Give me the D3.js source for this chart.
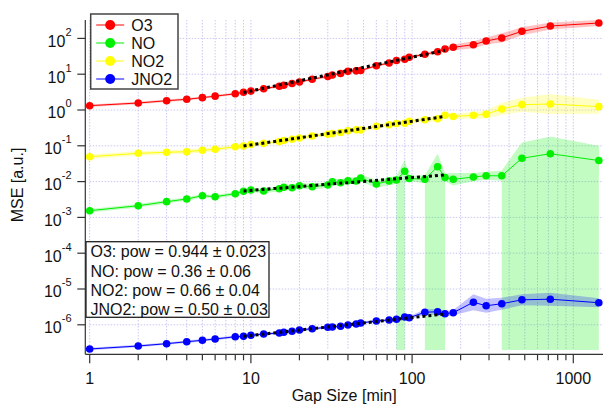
<!DOCTYPE html>
<meta charset="utf-8">
<head>
  <title>MSE vs gap size</title>
  <script src="https://d3js.org/d3.v7.min.js"></script>
  <style>
    body {
      margin: 0;
      font-family: "Liberation Sans", Arial, sans-serif;
      background: #fff;
    }
    .grid line {
      stroke: #c8c8f4;
      stroke-width: 1;
      stroke-dasharray: 1.5,1.5;
    }
    .axis-line {
      stroke: #333;
      stroke-width: 1.2;
    }
    .label {
      font-size: 16px;
      fill: #111;
    }
  </style>
</head>
<body>
<script>
  // gap sizes (minutes)
  var gaps = [1, 2, 3, 4, 5, 6, 8, 9, 10, 12, 15, 16, 18, 20, 24, 30, 32, 36, 40, 45, 48,
              60, 72, 80, 90, 96, 120, 144, 160, 180, 240, 288, 360, 480, 720, 1440];

  // MSE per species, relative error (band) per point
  var o3 = [1.32, 1.57, 1.82, 1.99, 2.21, 2.44, 2.84, 3.14, 3.37, 3.94, 4.62, 4.93, 5.50, 6.05, 7.25,
            8.63, 9.50, 10.5, 12.0, 12.4, 12.7, 17.3, 20.5, 24.2, 26.1, 29.8, 36.0, 42.5, 50.6, 56.4,
            66.6, 84.6, 103, 158, 222, 269];
  var o3Err = [0.08, 0.08, 0.08, 0.08, 0.08, 0.08, 0.08, 0.08, 0.08, 0.08, 0.08, 0.08, 0.08, 0.08, 0.08,
               0.08, 0.08, 0.08, 0.08, 0.08, 0.08, 0.08, 0.08, 0.08, 0.08, 0.08, 0.1, 0.12, 0.15, 0.2,
               0.25, 0.25, 0.35, 0.3, 0.25, 0.22];

  var no = [0.00154, 0.00212, 0.00275, 0.00327, 0.00404, 0.00379, 0.00459, 0.00536, 0.00582, 0.00546,
            0.00634, 0.00693, 0.00676, 0.00768, 0.00721, 0.00803, 0.00993, 0.00931, 0.0106, 0.0104,
            0.0126, 0.00857, 0.0104, 0.0111, 0.0194, 0.0122, 0.0116, 0.0261, 0.0130, 0.0116, 0.0134,
            0.0146, 0.0145, 0.0448, 0.0601, 0.0388];
  var noErr = [0.12, 0.12, 0.12, 0.12, 0.12, 0.12, 0.12, 0.14, 0.14, 0.15, 0.18, 0.18, 0.2, 0.2, 0.2,
               0.2, 0.22, 0.22, 0.22, 0.25, 0.25, 0.3, 0.3, 0.3, 1.07, 0.2, 0.3, 1.26, 0.3, 0.5,
               0.3, 0.3, 0.38, 1.73, 1.99, 1.54];
  // gaps where the NO lower bound drops to zero or below
  var noNoLow = [80, 90, 120, 144, 160, 360, 480, 720, 1440];

  var no2 = [0.0496, 0.0617, 0.0658, 0.0685, 0.0749, 0.0798, 0.0944, 0.0987, 0.109, 0.117, 0.131,
             0.140, 0.152, 0.165, 0.188, 0.211, 0.219, 0.235, 0.262, 0.282, 0.276, 0.352, 0.388,
             0.420, 0.425, 0.483, 0.536, 0.568, 0.716, 0.658, 0.711, 0.758, 1.07, 1.41, 1.47, 1.24];
  var no2Err = [0.15, 0.15, 0.15, 0.15, 0.15, 0.15, 0.15, 0.15, 0.15, 0.15, 0.15, 0.15, 0.15, 0.15, 0.15,
                0.15, 0.15, 0.15, 0.15, 0.15, 0.15, 0.15, 0.15, 0.15, 0.15, 0.15, 0.18, 0.18, 0.2, 0.2,
                0.22, 0.3, 0.47, 0.57, 0.9, 0.57];

  var jno2 = [2.11e-7, 2.56e-7, 2.97e-7, 3.37e-7, 3.69e-7, 4.01e-7, 4.65e-7, 4.75e-7, 5.09e-7, 5.54e-7,
              5.90e-7, 6.18e-7, 6.58e-7, 7.16e-7, 7.78e-7, 8.51e-7, 8.69e-7, 9.08e-7, 9.87e-7, 1.05e-6,
              1.12e-6, 1.28e-6, 1.36e-6, 1.43e-6, 1.65e-6, 1.57e-6, 2.25e-6, 2.31e-6, 2.04e-6, 2.18e-6,
              4.28e-6, 3.40e-6, 3.88e-6, 4.99e-6, 5.19e-6, 4.14e-6];
  var jno2Err = [0.08, 0.08, 0.08, 0.08, 0.08, 0.08, 0.08, 0.08, 0.08, 0.08, 0.08, 0.08, 0.08, 0.08, 0.08,
                 0.08, 0.08, 0.08, 0.08, 0.08, 0.08, 0.08, 0.08, 0.08, 0.1, 0.1, 0.2, 0.2, 0.2, 0.18,
                 0.67, 0.57, 0.47, 0.42, 0.52, 0.34];

  // power law fits: end points of the fitted range
  var fitX = [9, 160];
  var o3Fit = [3.08, 46.6];
  var noFit = [0.00546, 0.0154];
  var no2Fit = [0.0987, 0.66];
  var jno2Fit = [4.77e-7, 2.01e-6];

  var names = ["O3", "NO", "NO2", "JNO2"];
  var colors = ["#ff0000", "#00f000", "#ffff00", "#0000ff"];
  var fitLabels = ["O3: pow = 0.944 \u00b1 0.023",
                   "NO: pow = 0.36 \u00b1 0.06",
                   "NO2: pow = 0.66 \u00b1 0.04",
                   "JNO2: pow = 0.50 \u00b1 0.03"];
  var xTicks = [1, 10, 100, 1000];
  var yTicks = [1e-6, 1e-5, 1e-4, 1e-3, 1e-2, 1e-1, 1, 10, 100];

  var series = [
    {name: names[0], color: colors[0], values: o3, err: o3Err, noLow: [], fit: o3Fit},
    {name: names[1], color: colors[1], values: no, err: noErr, noLow: noNoLow, fit: noFit},
    {name: names[2], color: colors[2], values: no2, err: no2Err, noLow: [], fit: no2Fit},
    {name: names[3], color: colors[3], values: jno2, err: jno2Err, noLow: [], fit: jno2Fit}
  ];

  var width = 603, height = 405;
  // plot area (note: "top" is reserved on window, hence the prefix)
  var plotLeft = 89.7, plotRight = 603, plotTop = 20, plotBottom = 350;
  var axisX = 85.3, axisY = 354.3;

  var x = d3.scaleLog().domain([1, 1000]).range([89.7, 573.3]);
  var y = d3.scaleLog().domain([1e-6, 100]).range([324.8, 38.4]);

  var svg = d3.select("body").append("svg")
    .attr("width", width)
    .attr("height", height);

  svg.append("defs").append("clipPath").attr("id", "plotclip")
    .append("rect")
      .attr("x", plotLeft).attr("y", plotTop)
      .attr("width", plotRight - plotLeft).attr("height", plotBottom - plotTop);

  // grid lines
  var xGrid = [];
  [1, 10, 100, 1000].forEach(function(d) {
    for (var k = 1; k <= 9; k++) {
      if (d * k <= x.invert(plotRight)) xGrid.push(d * k);
    }
  });
  var grid = svg.append("g").attr("class", "grid");
  grid.selectAll(".vg").data(xGrid).enter().append("line")
    .attr("x1", function(d) { return x(d); })
    .attr("x2", function(d) { return x(d); })
    .attr("y1", plotTop).attr("y2", plotBottom);
  grid.selectAll(".hg").data(yTicks).enter().append("line")
    .attr("x1", plotLeft).attr("x2", plotRight)
    .attr("y1", function(d) { return y(d); })
    .attr("y2", function(d) { return y(d); });

  // uncertainty bands, drawn as opaque shapes inside one translucent group per series
  var bandLayer = svg.append("g").attr("clip-path", "url(#plotclip)");
  var band = d3.area()
    .x(function(d) { return x(d.gap); })
    .y0(function(d) { return y(d.v / (1 + d.e)); })
    .y1(function(d) { return y(d.v * (1 + d.e)); });
  var strip = d3.area()
    .x(function(d) { return x(d.gap); })
    .y0(plotBottom)
    .y1(function(d) { return y(d.v * (1 + d.e)); });

  series.forEach(function(s) {
    var pts = gaps.map(function(g, i) {
      return {gap: g, v: s.values[i], e: s.err[i], noLow: s.noLow.indexOf(g) >= 0};
    });
    s.pts = pts;
    var g = bandLayer.append("g").attr("opacity", 0.24);
    g.append("path").datum(pts).attr("d", band).attr("fill", s.color);
    // runs of points without a lower bound fill down to the bottom of the plot
    var run = [];
    pts.concat([null]).forEach(function(p) {
      if (p && p.noLow) { run.push(p); return; }
      if (run.length) {
        g.append("path").datum(run).attr("d", strip).attr("fill", s.color);
        run = [];
      }
    });
  });

  // data lines and markers
  var line = d3.line()
    .x(function(d) { return x(d.gap); })
    .y(function(d) { return y(d.v); });

  series.forEach(function(s) {
    svg.append("path").datum(s.pts)
      .attr("d", line)
      .attr("fill", "none")
      .attr("stroke", s.color)
      .attr("stroke-width", 1);
    svg.append("g").selectAll("circle").data(s.pts).enter().append("circle")
      .attr("cx", function(d) { return x(d.gap); })
      .attr("cy", function(d) { return y(d.v); })
      .attr("r", 3.8)
      .attr("fill", s.color);
  });

  // fits
  series.forEach(function(s) {
    svg.append("path")
      .datum(fitX.map(function(g, i) { return {gap: g, v: s.fit[i]}; }))
      .attr("d", line)
      .attr("fill", "none")
      .attr("stroke", "#000")
      .attr("stroke-width", 3)
      .attr("stroke-dasharray", "3,3");
  });

  // axes
  svg.append("line").attr("class", "axis-line")
    .attr("x1", axisX).attr("x2", axisX)
    .attr("y1", plotTop).attr("y2", axisY);
  svg.append("line").attr("class", "axis-line")
    .attr("x1", axisX).attr("x2", plotRight)
    .attr("y1", axisY).attr("y2", axisY);

  svg.append("g").selectAll("line").data(xGrid).enter().append("line")
    .attr("class", "axis-line")
    .attr("x1", function(d) { return x(d); })
    .attr("x2", function(d) { return x(d); })
    .attr("y1", axisY)
    .attr("y2", function(d) { return axisY + (xTicks.indexOf(d) >= 0 ? 9 : 6); });

  svg.append("g").selectAll("text").data(xTicks).enter().append("text")
    .attr("class", "label")
    .attr("x", function(d) { return x(d); })
    .attr("y", 384)
    .attr("text-anchor", "middle")
    .text(function(d) { return d; });

  svg.append("g").selectAll("line").data(yTicks).enter().append("line")
    .attr("class", "axis-line")
    .attr("x1", axisX - 8).attr("x2", axisX)
    .attr("y1", function(d) { return y(d); })
    .attr("y2", function(d) { return y(d); });

  var yLab = svg.append("g").selectAll("text").data(yTicks).enter().append("text")
    .attr("class", "label")
    .attr("x", 71.5)
    .attr("y", function(d) { return y(d) + 8.4; })
    .attr("text-anchor", "end");
  yLab.append("tspan").text("10");
  yLab.append("tspan")
    .attr("dy", -11)
    .attr("font-size", 11)
    .text(function(d) { return Math.round(Math.log10(d)); });

  svg.append("text").attr("class", "label")
    .attr("x", (axisX + plotRight) / 2)
    .attr("y", 401)
    .attr("text-anchor", "middle")
    .text("Gap Size [min]");
  svg.append("text").attr("class", "label")
    .attr("transform", "translate(23," + (plotTop + plotBottom) / 2 + ") rotate(-90)")
    .attr("text-anchor", "middle")
    .text("MSE [a.u.]");

  // legend
  var legend = svg.append("g").attr("transform", "translate(90.7,14)");
  legend.append("rect")
    .attr("width", 87.3).attr("height", 75)
    .attr("fill", "#fff")
    .attr("stroke", "#444")
    .attr("stroke-width", 1.5);
  var item = legend.selectAll(".item").data(series).enter().append("g")
    .attr("transform", function(d, i) { return "translate(0," + (11 + i * 18) + ")"; });
  item.append("line")
    .attr("x1", 5.5).attr("x2", 33.5)
    .attr("stroke", function(d) { return d.color; })
    .attr("stroke-width", 1);
  item.append("circle")
    .attr("cx", 19.5).attr("r", 5)
    .attr("fill", function(d) { return d.color; });
  item.append("text").attr("class", "label")
    .attr("x", 40.5).attr("y", 5.8)
    .text(function(d) { return d.name; });

  // fit results box
  var box = svg.append("g").attr("transform", "translate(86,241.7)");
  box.append("rect")
    .attr("width", 183).attr("height", 75.6)
    .attr("fill", "#fff")
    .attr("stroke", "#222")
    .attr("stroke-width", 1.3);
  box.selectAll("text").data(fitLabels).enter().append("text")
    .attr("class", "label")
    .attr("x", 4.5)
    .attr("y", function(d, i) { return 15.8 + i * 19.1; })
    .text(function(d) { return d; });
</script>
</body>
